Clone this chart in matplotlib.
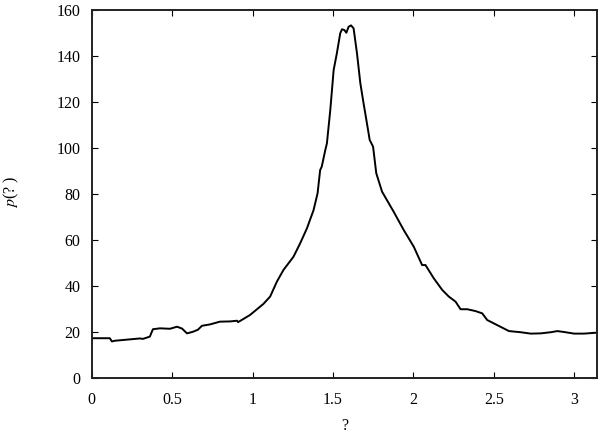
import matplotlib
matplotlib.use('Agg')
import matplotlib.pyplot as plt
import numpy as np

plt.rcParams['font.family'] = ['Liberation Serif', 'DejaVu Serif']
plt.rcParams['mathtext.fontset'] = 'stix'

# curve (angle vs p)
theta = [0.0, 0.112, 0.125, 0.143, 0.237, 0.30, 0.318, 0.361, 0.38, 0.424,
         0.486, 0.53, 0.561, 0.592, 0.629, 0.66, 0.685, 0.735, 0.797, 0.86,
         0.903, 0.91, 0.984, 1.067, 1.109, 1.151, 1.192, 1.254, 1.296, 1.338,
         1.379, 1.404, 1.42, 1.43, 1.452, 1.462, 1.483, 1.504, 1.524, 1.545,
         1.556, 1.57, 1.583, 1.597, 1.612, 1.628, 1.649, 1.67, 1.69, 1.711,
         1.728, 1.749, 1.769, 1.805, 1.877, 1.94, 2.002, 2.054, 2.075, 2.127,
         2.179, 2.22, 2.262, 2.293, 2.335, 2.386, 2.428, 2.459, 2.521, 2.594,
         2.667, 2.729, 2.791, 2.854, 2.895, 2.937, 2.999, 3.06, 3.1416]
p = [17.3, 17.3, 15.9, 16.2, 16.8, 17.2, 17.0, 18.0, 21.2, 21.6,
     21.4, 22.3, 21.5, 19.4, 20.1, 21.0, 22.7, 23.3, 24.5, 24.6,
     24.9, 24.3, 27.4, 32.2, 35.4, 41.9, 47.0, 52.7, 58.6, 65.1,
     73.0, 80.3, 90.4, 91.9, 99.1, 102.0, 116.5, 133.9, 141.2, 149.9,
     151.6, 151.3, 150.1, 152.7, 153.3, 152.0, 141.2, 128.1, 119.4, 110.7,
     103.5, 100.6, 89.0, 81.0, 72.3, 64.3, 57.1, 49.1, 49.1, 43.3,
     38.3, 35.4, 33.2, 29.9, 29.9, 29.1, 28.1, 25.2, 23.0, 20.4,
     19.9, 19.3, 19.4, 19.9, 20.4, 20.0, 19.3, 19.3, 19.7]

fig = plt.figure(figsize=(6, 4.33), dpi=100)
ax = fig.add_axes([0.153, 0.127, 0.842, 0.850])

ax.plot(theta, p, color='black', linewidth=1.4)

ax.set_xlim(0, np.pi)
ax.set_ylim(0, 160)
ax.set_xticks([0, 0.5, 1, 1.5, 2, 2.5, 3])
ax.set_xticklabels(['0', '0.5', '1', '1.5', '2', '2.5', '3'])
ax.set_yticks(range(0, 161, 20))

ax.tick_params(direction='in', length=4, width=0.8, top=True, right=True,
               labelsize=11.5, colors='black')
ax.tick_params(axis='x', pad=10)
ax.tick_params(axis='y', pad=8)
for s in ax.spines.values():
    s.set_linewidth(1.4)
    s.set_color('#222222')

ax.set_xlabel('?', fontsize=11.5)
ax.set_ylabel(r'$p$(? )', fontsize=11.5)
ax.xaxis.set_label_coords(0.5, -0.108)
ax.yaxis.set_label_coords(-0.14, 0.505)

fig.savefig('out.png', dpi=100)
